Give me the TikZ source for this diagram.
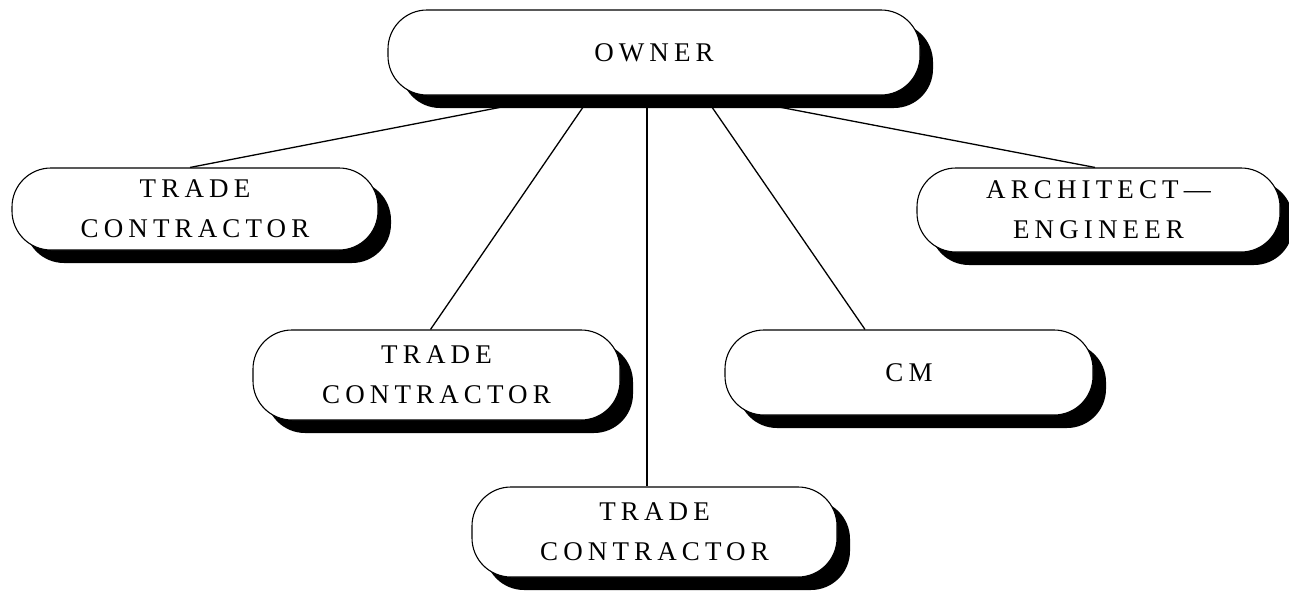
\documentclass[tikz,border=0pt]{standalone}
\usepackage{fontspec}
\setmainfont{Liberation Serif}[LetterSpace=19]
\usetikzlibrary{shadows}
\pgfdeclarelayer{background}
\pgfsetlayers{background,main}
\tikzset{
  box/.style={draw=black, line width=1.1pt, fill=white, rounded corners=39pt,
    inner sep=0pt, align=center, font=\fontsize{27}{40}\selectfont,
    drop shadow={shadow xshift=13pt, shadow yshift=-13pt, fill=black, opacity=1}},
  link/.style={draw=black, line width=1.3pt}
}
\begin{document}
\begin{tikzpicture}[x=1pt,y=-1pt]
\useasboundingbox (0,0) rectangle (1289,592);
\node[box, minimum width=532pt, minimum height=85pt] (owner) at (654,52.5) {OWNER};
\node[box, minimum width=366pt, minimum height=82pt] (tc1) at (195,209) {TRADE\\CONTRACTOR};
\node[box, minimum width=363pt, minimum height=84pt] (ae) at (1098.5,210) {ARCHITECT—\\ENGINEER};
\node[box, minimum width=367pt, minimum height=90pt] (tc2) at (436.5,375) {TRADE\\CONTRACTOR};
\node[box, minimum width=368pt, minimum height=85pt] (cm) at (909,372.5) {CM};
\node[box, minimum width=365pt, minimum height=90pt] (tc3) at (654.5,532) {TRADE\\CONTRACTOR};
\begin{pgfonlayer}{background}
\draw[link] ([xshift=-93pt]owner.south) -- ([xshift=-5pt]tc1.north);
\draw[link] ([xshift=-63pt]owner.south) -- ([xshift=-6pt]tc2.north);
\draw[link] ([xshift=-7pt]owner.south) -- ([xshift=-7.5pt]tc3.north);
\draw[link] ([xshift=50pt]owner.south) -- ([xshift=-44pt]cm.north);
\draw[link] ([xshift=65pt]owner.south) -- ([xshift=-3.5pt]ae.north);
\end{pgfonlayer}
\end{tikzpicture}
\end{document}
